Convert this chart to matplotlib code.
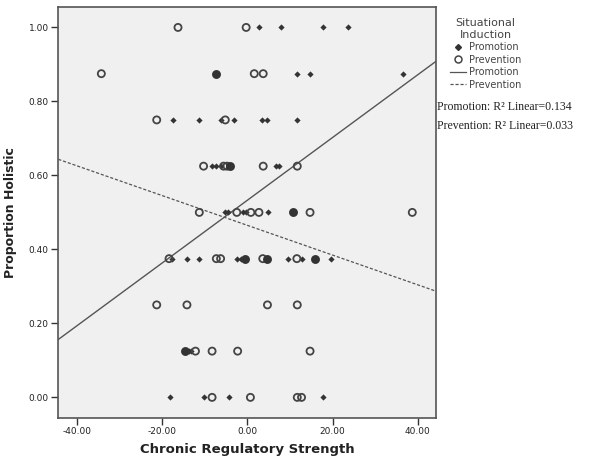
import matplotlib
matplotlib.use("Agg")
import matplotlib.pyplot as plt
from matplotlib.lines import Line2D
import numpy as np

# ---- data ----
prom_x = [2.7, 7.8, 17.7, 23.7,
          11.7, 14.6, 36.6,
          -17.4, -11.3, -6.3, -3.2, 3.5, 4.5, 11.7,
          -8.4, -7.4, -6.2, 6.6, 7.5,
          -5.3, -4.6, -1.1, -0.3, 4.9,
          -17.7, -14.2, -11.3, -2.5, -1.6, 9.6, 12.8, 19.7,
          -13.8, -13.3,
          -18.2, -10.2, -4.4, 17.7]
prom_y = [1.0] * 4 + [0.875] * 3 + [0.75] * 7 + [0.625] * 5 + [0.5] * 5 + \
         [0.375] * 8 + [0.125] * 2 + [0.0] * 4

prev_x = [-16.3, -0.3,
          -34.3, 1.6, 3.7,
          -21.3, -5.2,
          -10.3, -5.6, -4.8, 3.7, 11.7,
          -11.3, -2.5, 0.8, 2.7, 14.7, 38.7,
          -18.4, -7.3, -6.3, 3.6, 11.6,
          -21.3, -14.2, 4.7, 11.7,
          -12.2, -8.3, -2.3, 14.7,
          -8.3, 0.7, 11.7, 12.7]
prev_y = [1.0] * 2 + [0.875] * 3 + [0.75] * 2 + [0.625] * 5 + [0.5] * 6 + \
         [0.375] * 5 + [0.25] * 4 + [0.125] * 4 + [0.0] * 4

# overlapping points (rendered as solid dark circles)
over_x = [-7.3, -4.1, 10.7, -0.5, 4.7, 15.8, -14.6]
over_y = [0.875, 0.625, 0.5, 0.375, 0.375, 0.375, 0.125]

# fit lines: intercept, slope
groups = ["Promotion", "Prevention"]
fit_intercept = [0.533, 0.465]
fit_slope = [0.00848, -0.00402]
r2 = [0.134, 0.033]

xticks = [-40, -20, 0, 20, 40]
yticks = [0.0, 0.2, 0.4, 0.6, 0.8, 1.0]

# ---- figure ----
fig = plt.figure(figsize=(5.95, 4.63), dpi=100)
ax = fig.add_axes([0.098, 0.0978, 0.635, 0.8877])
ax.set_facecolor("#f0f0f0")
xlim = (-44.4, 44.3)
ylim = (-0.055, 1.056)
ax.set_xlim(*xlim)
ax.set_ylim(*ylim)

dark = "#333333"
ax.scatter(prom_x, prom_y, marker="D", s=10, color=dark, zorder=3, linewidths=0)
ax.scatter(prev_x, prev_y, marker="o", s=26, facecolors="none",
           edgecolors="#444444", linewidths=1.3, zorder=3)
ax.scatter(over_x, over_y, marker="o", s=26, color="#333333",
           edgecolors="#333333", linewidths=1.3, zorder=4)

xs = np.array(xlim)
styles = ["-", (0, (2.5, 1.5))]
lws = [1.0, 0.9]
for b0, b1, ls, lw in zip(fit_intercept, fit_slope, styles, lws):
    ax.plot(xs, b0 + b1 * xs, color="#555555", ls=ls, lw=lw, zorder=2)

ax.set_xticks(xticks)
ax.set_xticklabels([f"{v:.2f}" for v in xticks])
ax.set_yticks(yticks)
ax.set_yticklabels([f"{v:.2f}" for v in yticks])
ax.tick_params(direction="out", length=5, width=1, color="#333333",
               labelsize=6.5, labelcolor="#222222", pad=2)
for s in ax.spines.values():
    s.set_color("#555555")
    s.set_linewidth(1.2)

ax.set_xlabel("Chronic Regulatory Strength", fontsize=9.5, fontweight="bold",
              labelpad=5, color="#222222")
ax.set_ylabel("Proportion Holistic", fontsize=9, fontweight="bold",
              labelpad=8, color="#222222")

# legend
handles = [
    Line2D([], [], marker="D", ls="none", color=dark, markersize=3),
    Line2D([], [], marker="o", ls="none", markerfacecolor="none",
           markeredgecolor="#444444", markersize=5, markeredgewidth=1.1),
    Line2D([], [], color="#555555", ls="-", lw=0.9),
    Line2D([], [], color="#555555", ls=(0, (2.5, 1.5)), lw=0.9),
]
labels = groups + groups
leg = fig.legend(handles, labels, title="Situational\nInduction",
                 loc="upper left", bbox_to_anchor=(0.745, 0.975),
                 frameon=False, fontsize=7, title_fontsize=8,
                 handlelength=1.6, handletextpad=0.3, labelspacing=0.25,
                 borderpad=0.2)
for t in leg.get_texts():
    t.set_color("#444444")
leg.get_title().set_color("#444444")
leg.get_title().set_multialignment("center")

fig.text(0.735, 0.763, f"{groups[0]}: R² Linear={r2[0]:.3f}",
         family="Liberation Serif", fontsize=8.5, color="#222222")
fig.text(0.735, 0.722, f"{groups[1]}: R² Linear={r2[1]:.3f}",
         family="Liberation Serif", fontsize=8.5, color="#222222")

fig.savefig("out.png", dpi=100)
